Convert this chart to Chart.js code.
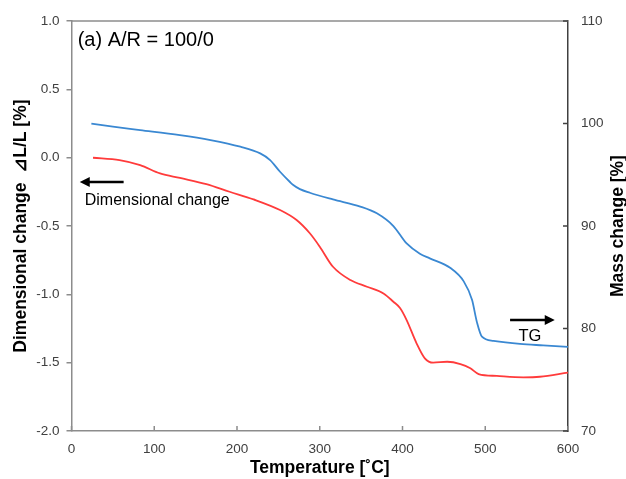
<!DOCTYPE html>
<html>
<head>
<meta charset="utf-8">
<script src="https://cdn.jsdelivr.net/npm/chart.js@4.4.1/dist/chart.umd.min.js"></script>
<style>
  body { margin: 0; background: #fff; }
  #wrap { width: 626px; height: 479px; }
</style>
</head>
<body>
<div id="wrap"><canvas id="chart" width="626" height="479"></canvas></div>
<script>
// TG curve (mass change, right axis)
const tgTemp = [24, 50, 83, 131, 168, 204, 228, 240, 252, 264, 268, 276, 288, 316, 349, 369, 389, 405, 421, 433, 458, 474, 484, 490, 496, 510, 542, 570, 600];
const tgMass = [100.0, 99.7, 99.37, 98.88, 98.39, 97.74, 97.09, 96.44, 95.3, 94.3, 94.0, 93.6, 93.25, 92.6, 91.9, 91.24, 90.0, 88.3, 87.3, 86.85, 85.9, 84.6, 82.8, 80.6, 79.2, 78.8, 78.5, 78.35, 78.2];

// dilatometer curve (dimensional change, left axis)
const dlTemp = [26, 58, 83, 107, 131, 163, 191, 220, 252, 272, 288, 300, 316, 337, 357, 377, 389, 397, 405, 417, 427, 437, 454, 470, 482, 492, 514, 546, 566, 600];
const dlValue = [0.0, -0.017, -0.054, -0.115, -0.148, -0.193, -0.249, -0.305, -0.383, -0.456, -0.553, -0.651, -0.798, -0.895, -0.944, -0.993, -1.054, -1.10, -1.188, -1.358, -1.468, -1.50, -1.493, -1.51, -1.541, -1.583, -1.597, -1.607, -1.603, -1.573];

const xTicks = [0, 100, 200, 300, 400, 500, 600];
const leftTicks = [-2.0, -1.5, -1.0, -0.5, 0.0, 0.5, 1.0];
const rightTicks = [70, 80, 90, 100, 110];

const axisGray = '#8c8c8c';
const axisDark = '#404040';
const labelColor = '#404040';
const fontFamily = '"Liberation Sans", Arial, sans-serif';

function drawArrow(ctx, x1, y, x2) {
    const dir = x2 > x1 ? 1 : -1;
    ctx.beginPath();
    ctx.moveTo(x1, y);
    ctx.lineTo(x2 - dir * 4, y);
    ctx.stroke();
    ctx.beginPath();
    ctx.moveTo(x2, y);
    ctx.lineTo(x2 - dir * 10, y - 5);
    ctx.lineTo(x2 - dir * 10, y + 5);
    ctx.closePath();
    ctx.fill();
}

const extras = {
    id: 'extras',
    afterDraw(chart) {
        const ctx = chart.ctx;
        const area = chart.chartArea;
        const x = chart.scales.x;
        const y = chart.scales.y;
        const y2 = chart.scales.y2;
        ctx.save();

        // top border
        ctx.strokeStyle = axisGray;
        ctx.lineWidth = 1.5;
        ctx.beginPath();
        ctx.moveTo(area.left, area.top);
        ctx.lineTo(area.right, area.top);
        ctx.stroke();

        // inward tick marks on x and right axes
        ctx.beginPath();
        xTicks.forEach(v => {
            const px = x.getPixelForValue(v);
            ctx.moveTo(px, area.bottom);
            ctx.lineTo(px, area.bottom - 5);
        });
        ctx.stroke();
        ctx.strokeStyle = axisDark;
        ctx.beginPath();
        rightTicks.forEach(v => {
            const py = y2.getPixelForValue(v);
            ctx.moveTo(area.right, py);
            ctx.lineTo(area.right - 5, py);
        });
        ctx.stroke();

        // panel label
        ctx.fillStyle = '#000';
        ctx.font = '20px ' + fontFamily;
        ctx.textBaseline = 'middle';
        ctx.textAlign = 'left';
        ctx.fillText('(a) A/R = 100/0', x.getPixelForValue(7.5), y.getPixelForValue(0.86));

        // arrows
        ctx.strokeStyle = '#000';
        ctx.lineWidth = 2.5;
        drawArrow(ctx, x.getPixelForValue(63), y.getPixelForValue(-0.178), x.getPixelForValue(10));
        drawArrow(ctx, x.getPixelForValue(530), y2.getPixelForValue(80.83), x.getPixelForValue(584));

        ctx.font = '16px ' + fontFamily;
        ctx.fillText('Dimensional change', x.getPixelForValue(16), y.getPixelForValue(-0.317));
        ctx.font = '16.5px ' + fontFamily;
        ctx.textAlign = 'center';
        ctx.fillText('TG', x.getPixelForValue(554), y2.getPixelForValue(79.27));

        // right axis title (reads bottom to top)
        ctx.font = 'bold 17.5px ' + fontFamily;
        ctx.translate(618, (area.top + area.bottom) / 2);
        ctx.rotate(-Math.PI / 2);
        ctx.fillText('Mass change [%]', 0, 0);
        ctx.restore();
    }
};

const ctx = document.getElementById('chart').getContext('2d');
new Chart(ctx, {
    type: 'line',
    data: {
        datasets: [{
            label: 'Dimensional change',
            data: dlTemp.map((t, i) => ({ x: t, y: dlValue[i] })),
            borderColor: '#ff3b3b',
            borderWidth: 1.8,
            pointRadius: 0,
            cubicInterpolationMode: 'monotone',
            yAxisID: 'y'
        }, {
            label: 'TG',
            data: tgTemp.map((t, i) => ({ x: t, y: tgMass[i] })),
            borderColor: '#3a88d2',
            borderWidth: 1.8,
            pointRadius: 0,
            cubicInterpolationMode: 'monotone',
            yAxisID: 'y2'
        }]
    },
    options: {
        responsive: false,
        animation: false,
        layout: { padding: { top: 21, left: 0, right: 0, bottom: 0 } },
        plugins: {
            legend: { display: false },
            tooltip: { enabled: false }
        },
        scales: {
            x: {
                type: 'linear',
                min: 0,
                max: 600,
                afterBuildTicks: s => { s.ticks = xTicks.map(v => ({ value: v })); },
                afterFit: s => { s.height = 48; },
                grid: { drawOnChartArea: false, drawTicks: false },
                border: { color: axisGray, width: 1.5 },
                ticks: {
                    padding: 10,
                    color: labelColor,
                    font: { family: fontFamily, size: 13.5 }
                },
                title: {
                    display: true,
                    text: 'Temperature [˚C]',
                    color: '#000',
                    padding: { top: 0, bottom: 0 },
                    font: { family: fontFamily, size: 17.5, weight: 'bold' }
                }
            },
            y: {
                position: 'left',
                min: -2,
                max: 1,
                afterBuildTicks: s => { s.ticks = leftTicks.map(v => ({ value: v })); },
                afterFit: s => { s.width = 71.5; },
                grid: { drawOnChartArea: false, drawTicks: true, tickLength: 5, color: axisGray, lineWidth: 1.5 },
                border: { color: axisGray, width: 1.5 },
                ticks: {
                    padding: 7,
                    color: labelColor,
                    font: { family: fontFamily, size: 13.5 },
                    callback: v => v.toFixed(1)
                },
                title: {
                    display: true,
                    text: 'Dimensional change  ⊿L/L [%]',
                    color: '#000',
                    padding: { top: 11, bottom: 0 },
                    font: { family: fontFamily, size: 17.5, weight: 'bold' }
                }
            },
            y2: {
                position: 'right',
                min: 70,
                max: 110,
                afterBuildTicks: s => { s.ticks = rightTicks.map(v => ({ value: v })); },
                afterFit: s => { s.width = 58; },
                grid: { drawOnChartArea: false, drawTicks: false },
                border: { color: axisDark, width: 1.5 },
                ticks: {
                    padding: 13,
                    color: labelColor,
                    font: { family: fontFamily, size: 13.5 }
                }
            }
        }
    },
    plugins: [extras]
});
</script>
</body>
</html>
